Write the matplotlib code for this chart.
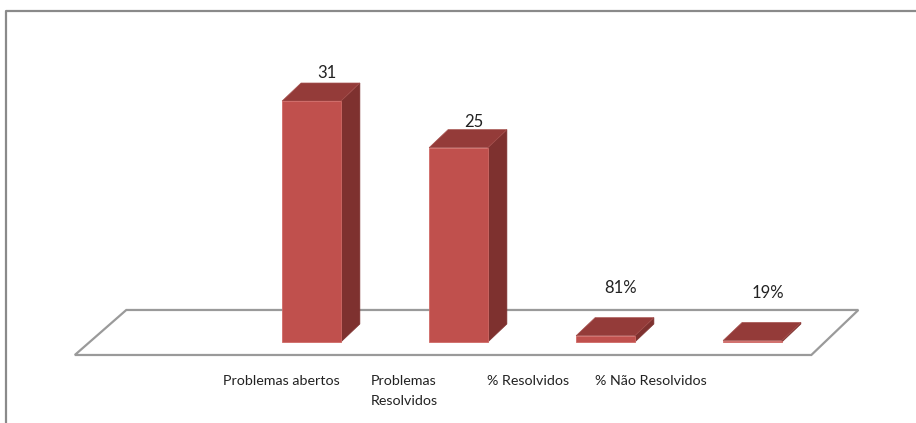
import numpy as np
import matplotlib.pyplot as plt
from matplotlib.patches import Polygon

# Dados do gráfico
categorias = ["Problemas abertos", "Problemas\nResolvidos", "% Resolvidos", "% Não Resolvidos"]
valores = [31, 25, 0.81, 0.19]
percentual = [False, False, True, True]

plt.rcParams['font.family'] = ['Lato', 'DejaVu Sans']

cor_frente = "#C0504D"
cor_lado = "#7E312F"
cor_topo = "#943B39"

fig = plt.figure(figsize=(9.16, 4.23), dpi=100)
ax = fig.add_axes([0, 0, 1, 1])
# eixo x em categorias, eixo y em unidades dos valores
ax.set_xlim(-2.119, 4.112)
ax.set_ylim(-10.42, 44.0)
ax.axis("off")

largura = 0.40
dx, dy = 0.129, 2.32   # profundidade das barras

# piso em perspectiva
piso = Polygon([(-1.61, -1.67), (3.40, -1.67), (3.72, 4.12), (-1.26, 4.12)],
               closed=True, facecolor="white", edgecolor="#9A9A9A", lw=1.6, zorder=1)
ax.add_patch(piso)

x = np.arange(len(valores))
barras = ax.bar(x, valores, width=largura, color=cor_frente,
                edgecolor="#D06A66", lw=0.6, zorder=4)

for xi, v in zip(x, valores):
    esq, dir_ = xi - largura / 2, xi + largura / 2
    lado = Polygon([(dir_, 0), (dir_ + dx, dy), (dir_ + dx, v + dy), (dir_, v)],
                   closed=True, facecolor=cor_lado, edgecolor=cor_lado, lw=0.5, zorder=3)
    topo = Polygon([(esq, v), (esq + dx, v + dy), (dir_ + dx, v + dy), (dir_, v)],
                   closed=True, facecolor=cor_topo, edgecolor="#A5504D", lw=0.5, zorder=3)
    ax.add_patch(lado)
    ax.add_patch(topo)

# rótulos de valor
desloc_rotulo = [1.3, 1.0, 3.8, 3.8]
for xi, v, pct, d in zip(x, valores, percentual, desloc_rotulo):
    txt = f"{v:.0%}" if pct else f"{v:g}"
    ax.text(xi + 0.105, v + dy + d, txt, ha="center", va="center",
            fontsize=12, color="#222222", zorder=5)

# rótulos das categorias
for i, cat in enumerate(categorias):
    ax.text(-0.207 + 0.839 * i, -4.3, cat, ha="center", va="top",
            fontsize=10.3, color="#222222", linespacing=1.75,
            multialignment="left")

# borda da área do gráfico
fig.add_artist(plt.Line2D([6 / 916, 6 / 916, 1.0], [0, 1 - 11 / 423, 1 - 11 / 423],
                          transform=fig.transFigure, color="#8A8A8A", lw=1.6))

fig.savefig("out.png", dpi=100)
